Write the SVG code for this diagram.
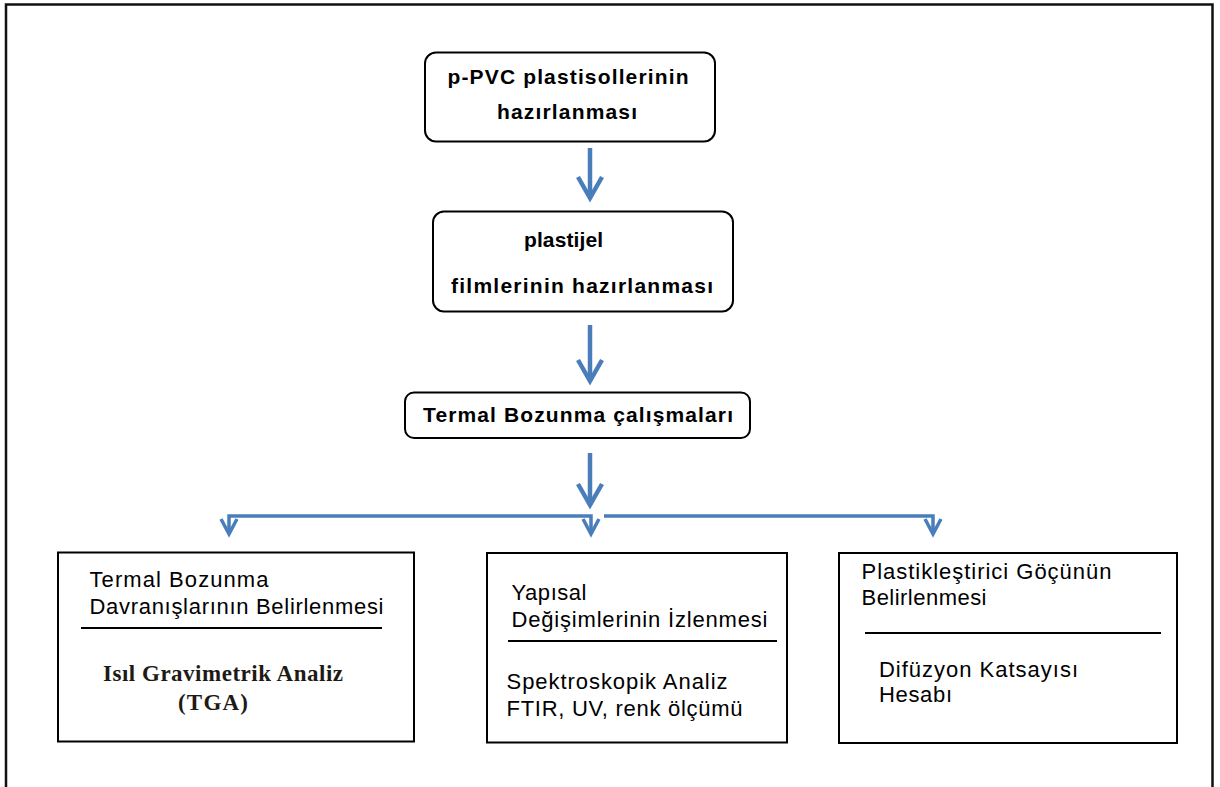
<svg xmlns="http://www.w3.org/2000/svg" width="1220" height="787" viewBox="0 0 1220 787">
<style>
.frame{fill:none;stroke:#111;stroke-width:2.5}
.rbox{fill:#fff;stroke:#000;stroke-width:2}
.box{fill:#fff;stroke:#000;stroke-width:2}
.sep{stroke:#000;stroke-width:2}
.tb{font-family:"Liberation Sans",Arial,sans-serif;font-weight:bold;font-size:21px;fill:#000}
.t{font-family:"Liberation Sans",Arial,sans-serif;font-size:22px;fill:#000}
.ts{font-family:"Liberation Serif","Times New Roman",serif;font-weight:bold;font-size:23px;fill:#1e1a14}
.big{fill:none;stroke:#4A7EBB;stroke-width:4.5}
.small{fill:none;stroke:#4A7EBB;stroke-width:3.5}
</style>
<defs>
<marker id="ah" markerUnits="userSpaceOnUse" orient="auto" refX="0" refY="0" markerWidth="30" markerHeight="30" overflow="visible">
<path d="M -21 -12 L 0 0 L -21 12" fill="none" stroke="#4A7EBB" stroke-width="4.5" stroke-linejoin="miter"/>
</marker>
<marker id="as" markerUnits="userSpaceOnUse" orient="auto-start-reverse" refX="0" refY="0" markerWidth="24" markerHeight="24" overflow="visible">
<path d="M -15 -8 L 0 0 L -15 8" fill="none" stroke="#4A7EBB" stroke-width="3.5" stroke-linejoin="miter"/>
</marker>
</defs>
<rect width="1220" height="787" fill="#fff"/>
<path class="frame" d="M 6 800 L 6 4.5 L 1212.5 4.5 L 1212.5 800"/>

<g id="connectors">
<line class="big" x1="590" y1="148" x2="590" y2="198" marker-end="url(#ah)"/>
<line class="big" x1="590" y1="325" x2="590" y2="381" marker-end="url(#ah)"/>
<line class="big" x1="590" y1="453" x2="590" y2="505" marker-end="url(#ah)"/>
<polyline class="small" points="229,534 229,516 591,516 591,534" marker-start="url(#as)" marker-end="url(#as)"/>
<polyline class="small" points="604,516 933,516 933,534" marker-end="url(#as)"/>
</g>

<g id="n1">
<rect class="rbox" x="425" y="52.5" width="290" height="89" rx="11"/>
<text class="tb" x="447.5" y="84" textLength="241" lengthAdjust="spacing">p-PVC plastisollerinin</text>
<text class="tb" x="497" y="119" textLength="140" lengthAdjust="spacing">hazırlanması</text>
</g>

<g id="n2">
<rect class="rbox" x="433" y="211.5" width="300" height="100" rx="11"/>
<text class="tb" x="524" y="247" textLength="79" lengthAdjust="spacing">plastijel</text>
<text class="tb" x="451" y="293" textLength="262" lengthAdjust="spacing">filmlerinin hazırlanması</text>
</g>

<g id="n3">
<rect class="rbox" x="405" y="392.5" width="345" height="45.5" rx="9"/>
<text class="tb" x="423" y="422" textLength="310" lengthAdjust="spacing">Termal Bozunma çalışmaları</text>
</g>

<g id="n4">
<rect class="box" x="58" y="552.5" width="356" height="189"/>
<text class="t" x="89.5" y="587" textLength="179" lengthAdjust="spacing">Termal Bozunma</text>
<text class="t" x="89.5" y="614" textLength="294" lengthAdjust="spacing">Davranışlarının Belirlenmesi</text>
<line class="sep" x1="81" y1="628" x2="382" y2="628"/>
<text class="ts" x="103" y="681" textLength="240" lengthAdjust="spacing">Isıl Gravimetrik Analiz</text>
<text class="ts" x="178" y="710" textLength="70" lengthAdjust="spacing">(TGA)</text>
</g>

<g id="n5">
<rect class="box" x="487" y="553" width="300" height="189.5"/>
<text class="t" x="511.5" y="600" textLength="75" lengthAdjust="spacing">Yapısal</text>
<text class="t" x="511.5" y="627" textLength="256" lengthAdjust="spacing">Değişimlerinin İzlenmesi</text>
<line class="sep" x1="508" y1="641" x2="777" y2="641"/>
<text class="t" x="506.5" y="689" textLength="221" lengthAdjust="spacing">Spektroskopik Analiz</text>
<text class="t" x="506.5" y="716" textLength="236" lengthAdjust="spacing">FTIR, UV, renk ölçümü</text>
</g>

<g id="n6">
<rect class="box" x="839" y="553" width="338" height="190"/>
<text class="t" x="861.5" y="579" textLength="250" lengthAdjust="spacing">Plastikleştirici Göçünün</text>
<text class="t" x="861.5" y="605" textLength="125" lengthAdjust="spacing">Belirlenmesi</text>
<line class="sep" x1="865" y1="633" x2="1161" y2="633"/>
<text class="t" x="879" y="677" textLength="199" lengthAdjust="spacing">Difüzyon Katsayısı</text>
<text class="t" x="879" y="702" textLength="73" lengthAdjust="spacing">Hesabı</text>
</g>
</svg>
